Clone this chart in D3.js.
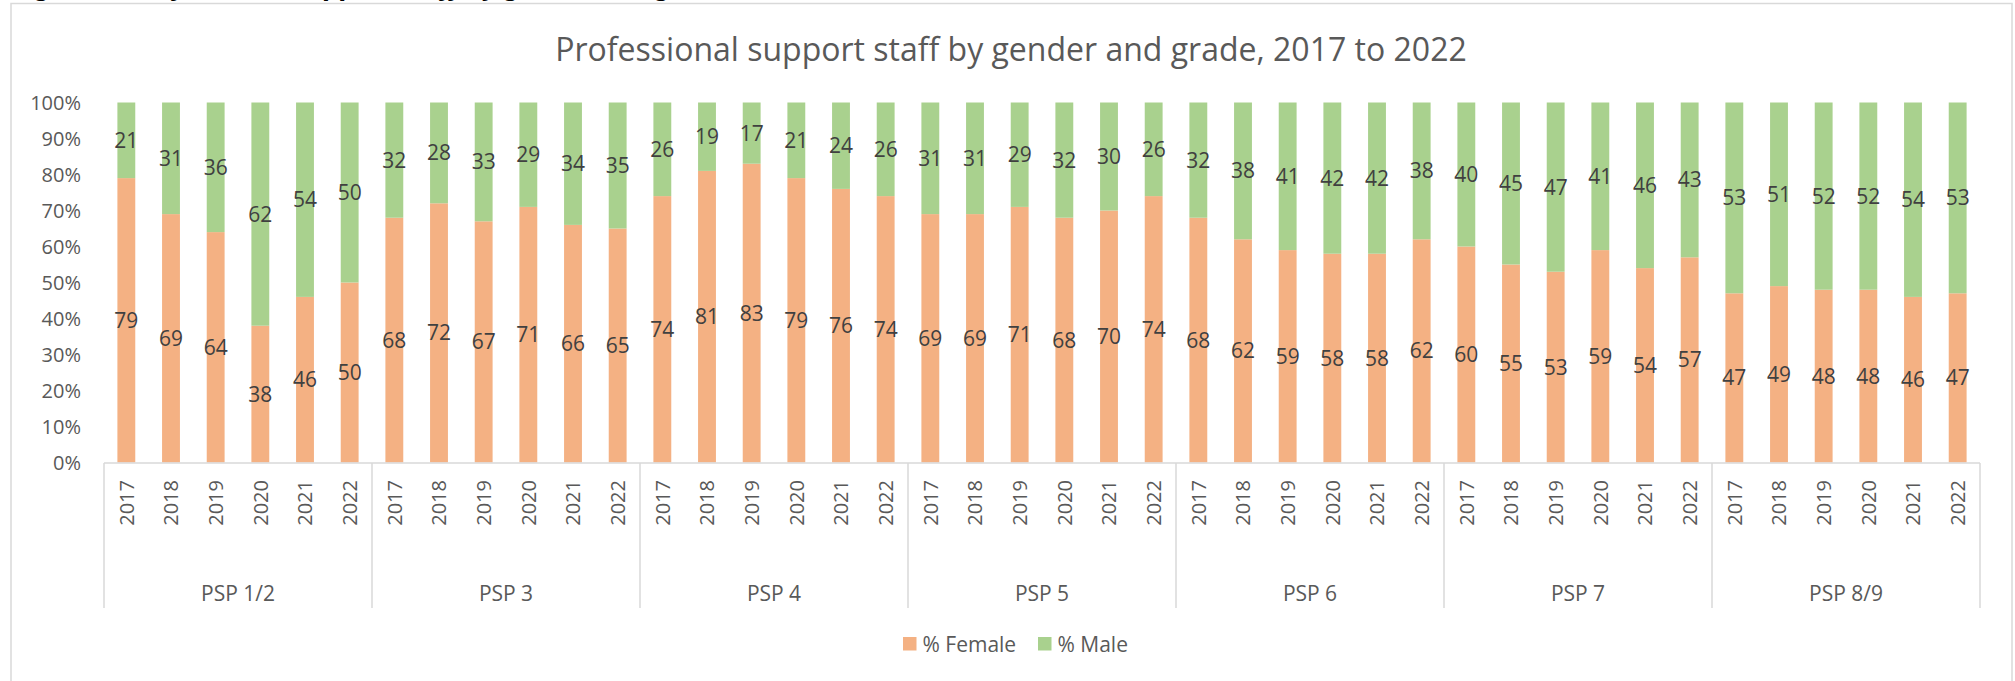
<!DOCTYPE html>
<html>
<head>
<meta charset="utf-8">
<script src="https://cdn.jsdelivr.net/npm/d3@7"></script>
<style>
  body { margin: 0; background: #fff; }
  svg { display: block; font-family: "Open Sans", sans-serif; }
</style>
</head>
<body>
<svg></svg>
<script>
/* 数据 */
const grades = ['PSP 1/2', 'PSP 3', 'PSP 4', 'PSP 5', 'PSP 6', 'PSP 7', 'PSP 8/9'];
const years = ['2017', '2018', '2019', '2020', '2021', '2022'];
const female = [
  [79, 69, 64, 38, 46, 50],
  [68, 72, 67, 71, 66, 65],
  [74, 81, 83, 79, 76, 74],
  [69, 69, 71, 68, 70, 74],
  [68, 62, 59, 58, 58, 62],
  [60, 55, 53, 59, 54, 57],
  [47, 49, 48, 48, 46, 47]
];
const male = [
  [21, 31, 36, 62, 54, 50],
  [32, 28, 33, 29, 34, 35],
  [26, 19, 17, 21, 24, 26],
  [31, 31, 29, 32, 30, 26],
  [32, 38, 41, 42, 42, 38],
  [40, 45, 47, 41, 46, 43],
  [53, 51, 52, 52, 54, 53]
];
const seriesNames = ['% Female', '% Male'];
const yTicks = [0, 10, 20, 30, 40, 50, 60, 70, 80, 90, 100];

/* 常参数 */
const width = 2015, height = 681;
const plot = {L: 104, R: 1980, T: 102.5, B: 462.5};
const colors = ['#F4B183', '#A9D18E'];
const gridColor = '#d9d9d9';

const svg = d3.select('svg').attr('width', width).attr('height', height);

/* 外框与顶部被裁掉的图注(只露出下伸部分) */
svg.append('text')
  .attr('x', 14).attr('y', -5)
  .attr('font-size', 27).attr('font-style', 'italic').attr('font-weight', 'bold')
  .attr('fill', '#000')
  .text('Figure 5: Professional support staff by gender and grade, 2017 to 2022');
svg.append('rect')
  .attr('x', 11).attr('y', 3.5)
  .attr('width', 2001).attr('height', 700)
  .attr('fill', '#fff')
  .attr('stroke', gridColor).attr('stroke-width', 1.5);

/* 标题 */
svg.append('text')
  .attr('x', 1011).attr('y', 61)
  .attr('text-anchor', 'middle')
  .attr('font-size', 32).attr('fill', '#595959')
  .text('Professional support staff by gender and grade, 2017 to 2022');

/* 构造每根柱子的数据 */
const rows = [];
grades.forEach((g, gi) => {
  years.forEach((yr, yi) => {
    rows.push({key: g + '|' + yr, grade: g, year: yr, values: [female[gi][yi], male[gi][yi]]});
  });
});

const x = d3.scaleBand().domain(rows.map(d => d.key)).range([plot.L, plot.R])
  .paddingInner(0.6).paddingOuter(0.3);
const xGroup = d3.scaleBand().domain(grades).range([plot.L, plot.R]);
const y = d3.scaleLinear().domain([0, 100]).range([plot.B, plot.T]);

/* 纵轴刻度 */
svg.append('g').selectAll('text').data(yTicks).enter().append('text')
  .attr('x', 81).attr('y', d => y(d))
  .attr('dy', '0.36em')
  .attr('text-anchor', 'end')
  .attr('font-size', 20).attr('fill', '#595959')
  .text(d => d + '%');

/* 柱子 */
const bars = svg.append('g').selectAll('g').data(rows).enter().append('g');
bars.each(function (d) {
  let base = 0;
  const g = d3.select(this);
  d.values.forEach((v, i) => {
    g.append('rect')
      .attr('x', x(d.key))
      .attr('width', x.bandwidth())
      .attr('y', y(base + v))
      .attr('height', y(base) - y(base + v))
      .attr('fill', colors[i]);
    g.append('text')
      .attr('x', x(d.key) + x.bandwidth() / 2)
      .attr('y', y(base + v / 2))
      .attr('dy', '0.36em')
      .attr('text-anchor', 'middle')
      .attr('font-size', 21).attr('fill', '#404040')
      .text(v);
    base += v;
  });
});

/* 横轴:年份与分组 */
const axis = svg.append('g');
axis.append('line')
  .attr('x1', plot.L).attr('x2', plot.R)
  .attr('y1', plot.B + 0.5).attr('y2', plot.B + 0.5)
  .attr('stroke', gridColor).attr('stroke-width', 1.5);
const dividers = grades.map(g => xGroup(g)).concat([plot.R]);
axis.selectAll('line.div').data(dividers).enter().append('line')
  .attr('class', 'div')
  .attr('x1', d => d).attr('x2', d => d)
  .attr('y1', plot.B + 0.5).attr('y2', 608)
  .attr('stroke', gridColor).attr('stroke-width', 1.5);
axis.selectAll('text.year').data(rows).enter().append('text')
  .attr('class', 'year')
  .attr('transform', d => `translate(${x(d.key) + x.bandwidth() / 2},480) rotate(-90)`)
  .attr('dy', '0.36em')
  .attr('text-anchor', 'end')
  .attr('font-size', 20).attr('fill', '#595959')
  .text(d => d.year);
axis.selectAll('text.grade').data(grades).enter().append('text')
  .attr('class', 'grade')
  .attr('x', d => xGroup(d) + xGroup.bandwidth() / 2)
  .attr('y', 593)
  .attr('dy', '0.36em')
  .attr('text-anchor', 'middle')
  .attr('font-size', 21).attr('fill', '#595959')
  .text(d => d);

/* 图例 */
const legendX = [903, 1038];
const legend = svg.append('g').selectAll('g').data(seriesNames).enter().append('g')
  .attr('transform', (d, i) => `translate(${legendX[i]},637)`);
legend.append('rect')
  .attr('width', 13.5).attr('height', 13.5)
  .attr('fill', (d, i) => colors[i]);
legend.append('text')
  .attr('x', 19.5).attr('y', 7)
  .attr('dy', '0.36em')
  .attr('font-size', 21).attr('fill', '#595959')
  .text(d => d);
</script>
</body>
</html>
